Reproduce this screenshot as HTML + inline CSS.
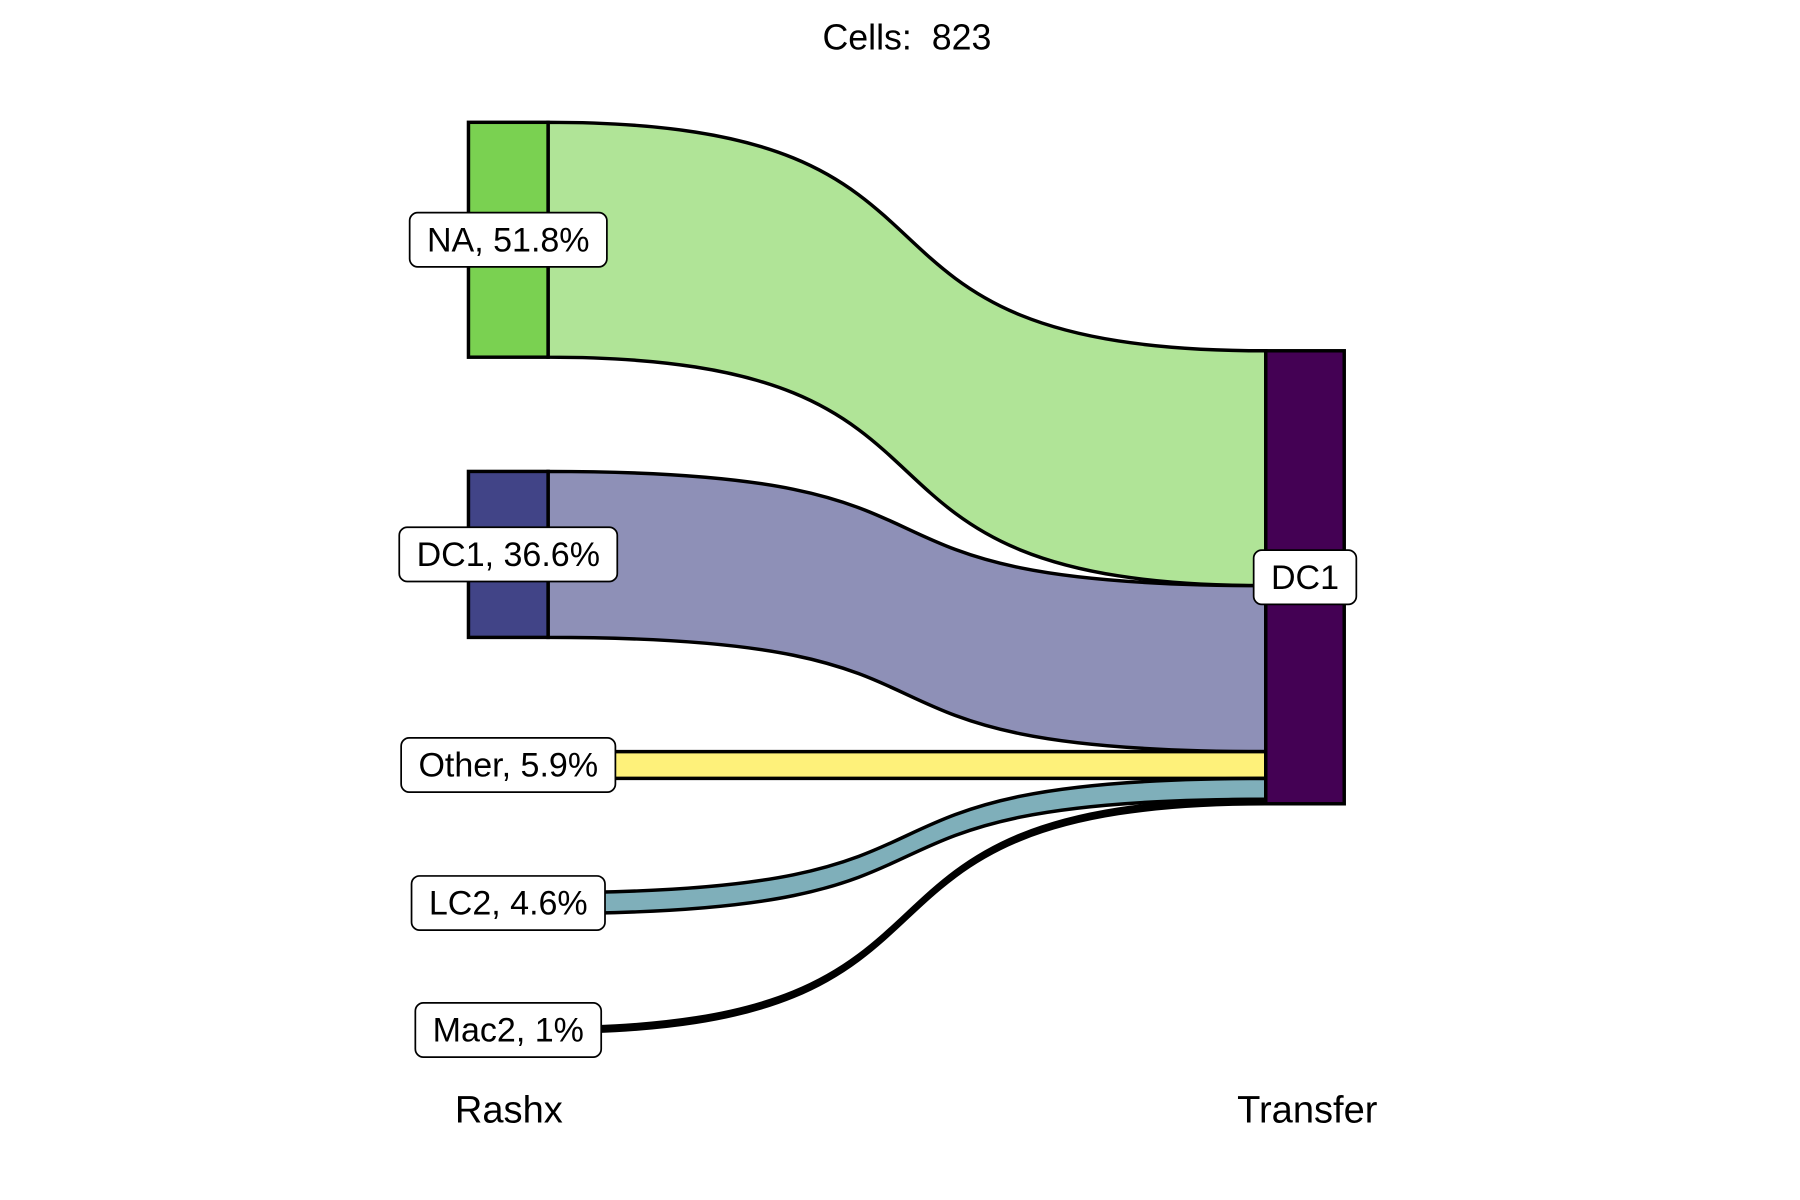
<!DOCTYPE html>
<html><head><meta charset="utf-8"><style>
html,body{margin:0;padding:0;background:#fff;}
svg{display:block;font-family:"Liberation Sans",Arial,sans-serif;}
</style></head><body>
<svg id="chart" width="1800" height="1200" viewBox="0 0 1560 1040" xmlns="http://www.w3.org/2000/svg">
<text x="786" y="43" text-anchor="middle" font-size="31" style="white-space:pre" xml:space="preserve">Cells:  823</text>
<g id="flows"></g>
<g id="nodes"></g>
<g id="labels"></g>
<text x="441" y="973" text-anchor="middle" font-size="33">Rashx</text>
<text x="1133" y="973" text-anchor="middle" font-size="33">Transfer</text>
</svg>
<script>
const categories = ["NA", "DC1", "Other", "LC2", "Mac2"];
const percents = [51.8, 36.6, 5.9, 4.6, 1.0];
const nodeColors = ["#7ad151", "#414487", "#fde725", "#2a788e", "#000000"];
const flowColors = ["#b0e497", "#8e90b7", "#fef17a", "#7fafba", "#000000"];
const targetName = "DC1";

const NS = "http://www.w3.org/2000/svg";
const leftX0 = 406, leftX1 = 475, rightX0 = 1097, rightX1 = 1165;
const pxPerPct = 3.93, gap = 99, leftTop = 106;
const total = percents.reduce((a, b) => a + b, 0);
const rightTop = leftTop + (total * pxPerPct + gap * (percents.length - 1)) / 2 - total * pxPerPct / 2;
function h(v) { return v * pxPerPct; }
function mk(tag, attrs, parent) {
  const e = document.createElementNS(NS, tag);
  for (const k in attrs) e.setAttribute(k, attrs[k]);
  parent.appendChild(e);
  return e;
}
const flowsG = document.getElementById("flows");
const nodesG = document.getElementById("nodes");
const labelsG = document.getElementById("labels");
let ly = leftTop, ry = rightTop;
const dx = rightX0 - leftX1;
const c1 = leftX1 + 0.66 * dx, c2 = rightX0 - 0.66 * dx;
categories.forEach((c, i) => {
  const hh = h(percents[i]);
  const a0 = ly, a1 = ly + hh, b0 = ry, b1 = ry + hh;
  const d = `M${leftX1},${a0} C${c1},${a0} ${c2},${b0} ${rightX0},${b0} L${rightX0},${b1} C${c2},${b1} ${c1},${a1} ${leftX1},${a1} Z`;
  const p = mk("path", { d: d, fill: flowColors[i], stroke: "#000", "stroke-width": 3 }, flowsG);
  
  
  const r = mk("rect", { x: leftX0, y: a0, width: leftX1 - leftX0, height: hh, fill: nodeColors[i], stroke: "#000", "stroke-width": 3 }, nodesG);
  
  
  const cy = (a0 + a1) / 2;
  const txt = c + ", " + (Math.round(percents[i] * 10) / 10) + "%";
  addLabel(txt, (leftX0 + leftX1) / 2, cy, 'label-' + c.toLowerCase());
  ly = a1 + gap; ry = b1;
});
const rr = mk("rect", { x: rightX0, y: rightTop, width: rightX1 - rightX0, height: h(total), fill: "#440154", stroke: "#000", "stroke-width": 3 }, nodesG);


addLabel(targetName, (rightX0 + rightX1) / 2, rightTop + h(total) / 2, 'label-target-dc1');

function addLabel(txt, cx, cy, name) {
  const g = mk("g", {}, labelsG);
  
  
  const t = mk("text", { x: cx, y: cy + 10, "text-anchor": "middle", "font-size": 29.5 }, g);
  t.textContent = txt;
  const w = t.getComputedTextLength ? t.getComputedTextLength() : txt.length * 15;
  const bw = w + 30, bh = 47;
  const b = mk("rect", { x: cx - bw / 2, y: cy - bh / 2, width: bw, height: bh, rx: 7, fill: "#fff", stroke: "#000", "stroke-width": 1.5 }, g);
  g.insertBefore(b, t);
}
</script>
</body></html>
